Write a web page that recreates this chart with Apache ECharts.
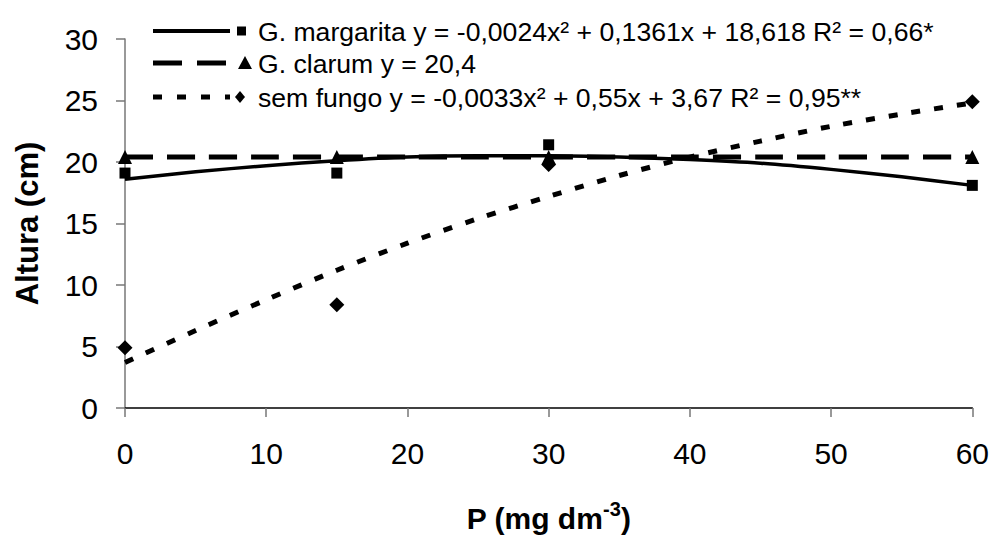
<!DOCTYPE html>
<html>
<head>
<meta charset="utf-8">
<script src="https://cdn.jsdelivr.net/npm/echarts@6/dist/echarts.min.js"></script>
<style>
  html, body { margin: 0; padding: 0; background: #fff; }
  #main { width: 992px; height: 538px; }
</style>
</head>
<body>
<div id="main"></div>
<script>
// observed points
const doses = [0, 15, 30, 60];
const margarita = [19.1, 19.1, 21.4, 18.1];
const clarum = [20.4, 20.4, 20.4, 20.4];
const semFungo = [4.9, 8.4, 19.8, 24.9];

// fitted curves
const fitX = [0, 5, 10, 15, 20, 25, 30, 35, 40, 45, 50, 55, 60];
const margaritaFit = [18.6, 19.2, 19.7, 20.1, 20.4, 20.5, 20.5, 20.4, 20.2, 19.9, 19.4, 18.8, 18.1];
const clarumFit = [20.4, 20.4, 20.4, 20.4, 20.4, 20.4, 20.4, 20.4, 20.4, 20.4, 20.4, 20.4, 20.4];
const semFungoFit = [3.7, 6.3, 8.8, 11.2, 13.4, 15.4, 17.2, 18.9, 20.4, 21.7, 22.9, 23.9, 24.8];

const legendLabels = [
  'G. margarita y = -0,0024x² + 0,1361x + 18,618 R² = 0,66*',
  'G. clarum y = 20,4',
  'sem fungo y = -0,0033x² + 0,55x + 3,67 R² = 0,95**'
];

const font = '"Liberation Sans", Arial, sans-serif';
const pairs = (xs, ys) => xs.map((x, i) => [x, ys[i]]);

function fitLine(name, data, type, width) {
  return {
    name: name,
    type: 'line',
    data: pairs(fitX, data),
    showSymbol: false,
    smooth: 0.3,
    silent: true,
    lineStyle: { color: '#000', width: width, type: type, cap: 'butt' },
    z: 2
  };
}

function points(name, data, symbol, size) {
  return {
    name: name,
    type: 'scatter',
    data: pairs(doses, data),
    symbol: symbol,
    symbolSize: size,
    itemStyle: { color: '#000', opacity: 1 },
    z: 3
  };
}

// legend drawn like the original: line sample, marker, label
const rowY = [31, 63, 97];
const legendGraphics = [];
const samples = [
  { dash: null, w: 4, sym: 'rect' },
  { dash: [29, 15], w: 5, sym: 'tri' },
  { dash: [9, 15], w: 5, sym: 'diamond' }
];
samples.forEach((s, i) => {
  const y = rowY[i];
  legendGraphics.push({
    type: 'line',
    shape: { x1: 153, y1: y, x2: 230, y2: y },
    style: { stroke: '#000', lineWidth: s.w, lineDash: s.dash, lineCap: 'butt' }
  });
  let markerShape;
  if (s.sym === 'rect') {
    markerShape = { type: 'rect', shape: { x: 237, y: y - 4.5, width: 9, height: 9 } };
  } else if (s.sym === 'tri') {
    markerShape = { type: 'polygon', shape: { points: [[245, y - 7], [252, y + 6], [238, y + 6]] } };
  } else {
    markerShape = { type: 'polygon', shape: { points: [[240, y - 6], [245, y], [240, y + 6], [235, y]] } };
  }
  markerShape.style = { fill: '#000' };
  legendGraphics.push(markerShape);
  legendGraphics.push({
    type: 'text',
    left: 258,
    top: y - 13,
    style: { text: legendLabels[i], font: '26.6px ' + font, fill: '#000' }
  });
});

const chart = echarts.init(document.getElementById('main'), null, { renderer: 'svg' });
chart.setOption({
  backgroundColor: '#fff',
  animation: false,
  grid: { left: 125, right: 18, top: 39, bottom: 125 },
  xAxis: {
    type: 'value',
    min: 0, max: 60, interval: 10,
    name: '{a|P (mg dm}{s|-3}{a|)}',
    nameLocation: 'middle',
    nameGap: 91,
    nameTextStyle: {
      rich: {
        a: { fontFamily: font, fontSize: 30, fontWeight: 'bold', color: '#000', lineHeight: 34, verticalAlign: 'bottom' },
        s: { fontFamily: font, fontSize: 20, fontWeight: 'bold', color: '#000', lineHeight: 34, verticalAlign: 'top', padding: [0, 0, 12, 0] }
      }
    },
    axisLine: { lineStyle: { color: '#000', width: 1.5 } },
    axisTick: { show: true, length: 9, lineStyle: { color: '#777', width: 1.5 } },
    axisLabel: { fontFamily: font, fontSize: 30, color: '#000', margin: 30 },
    splitLine: { show: false }
  },
  yAxis: {
    type: 'value',
    min: 0, max: 30, interval: 5,
    name: 'Altura (cm)',
    nameLocation: 'middle',
    nameGap: 82,
    nameTextStyle: { fontFamily: font, fontSize: 31, fontWeight: 'bold', color: '#000' },
    axisLine: { show: true, lineStyle: { color: '#777', width: 1.5 } },
    axisTick: { show: true, length: 9, lineStyle: { color: '#777', width: 1.5 } },
    axisLabel: { fontFamily: font, fontSize: 30, color: '#000', margin: 27 },
    splitLine: { show: false }
  },
  graphic: legendGraphics,
  series: [
    fitLine('G. margarita', margaritaFit, 'solid', 3.5),
    fitLine('G. clarum', clarumFit, [28, 14], 5),
    fitLine('sem fungo', semFungoFit, [9, 14], 5),
    points('G. margarita', margarita, 'rect', 11),
    points('G. clarum', clarum, 'triangle', 14),
    points('sem fungo', semFungo, 'diamond', 15)
  ]
});
window.onresize = function() {
  chart.resize();
};
</script>
</body>
</html>
